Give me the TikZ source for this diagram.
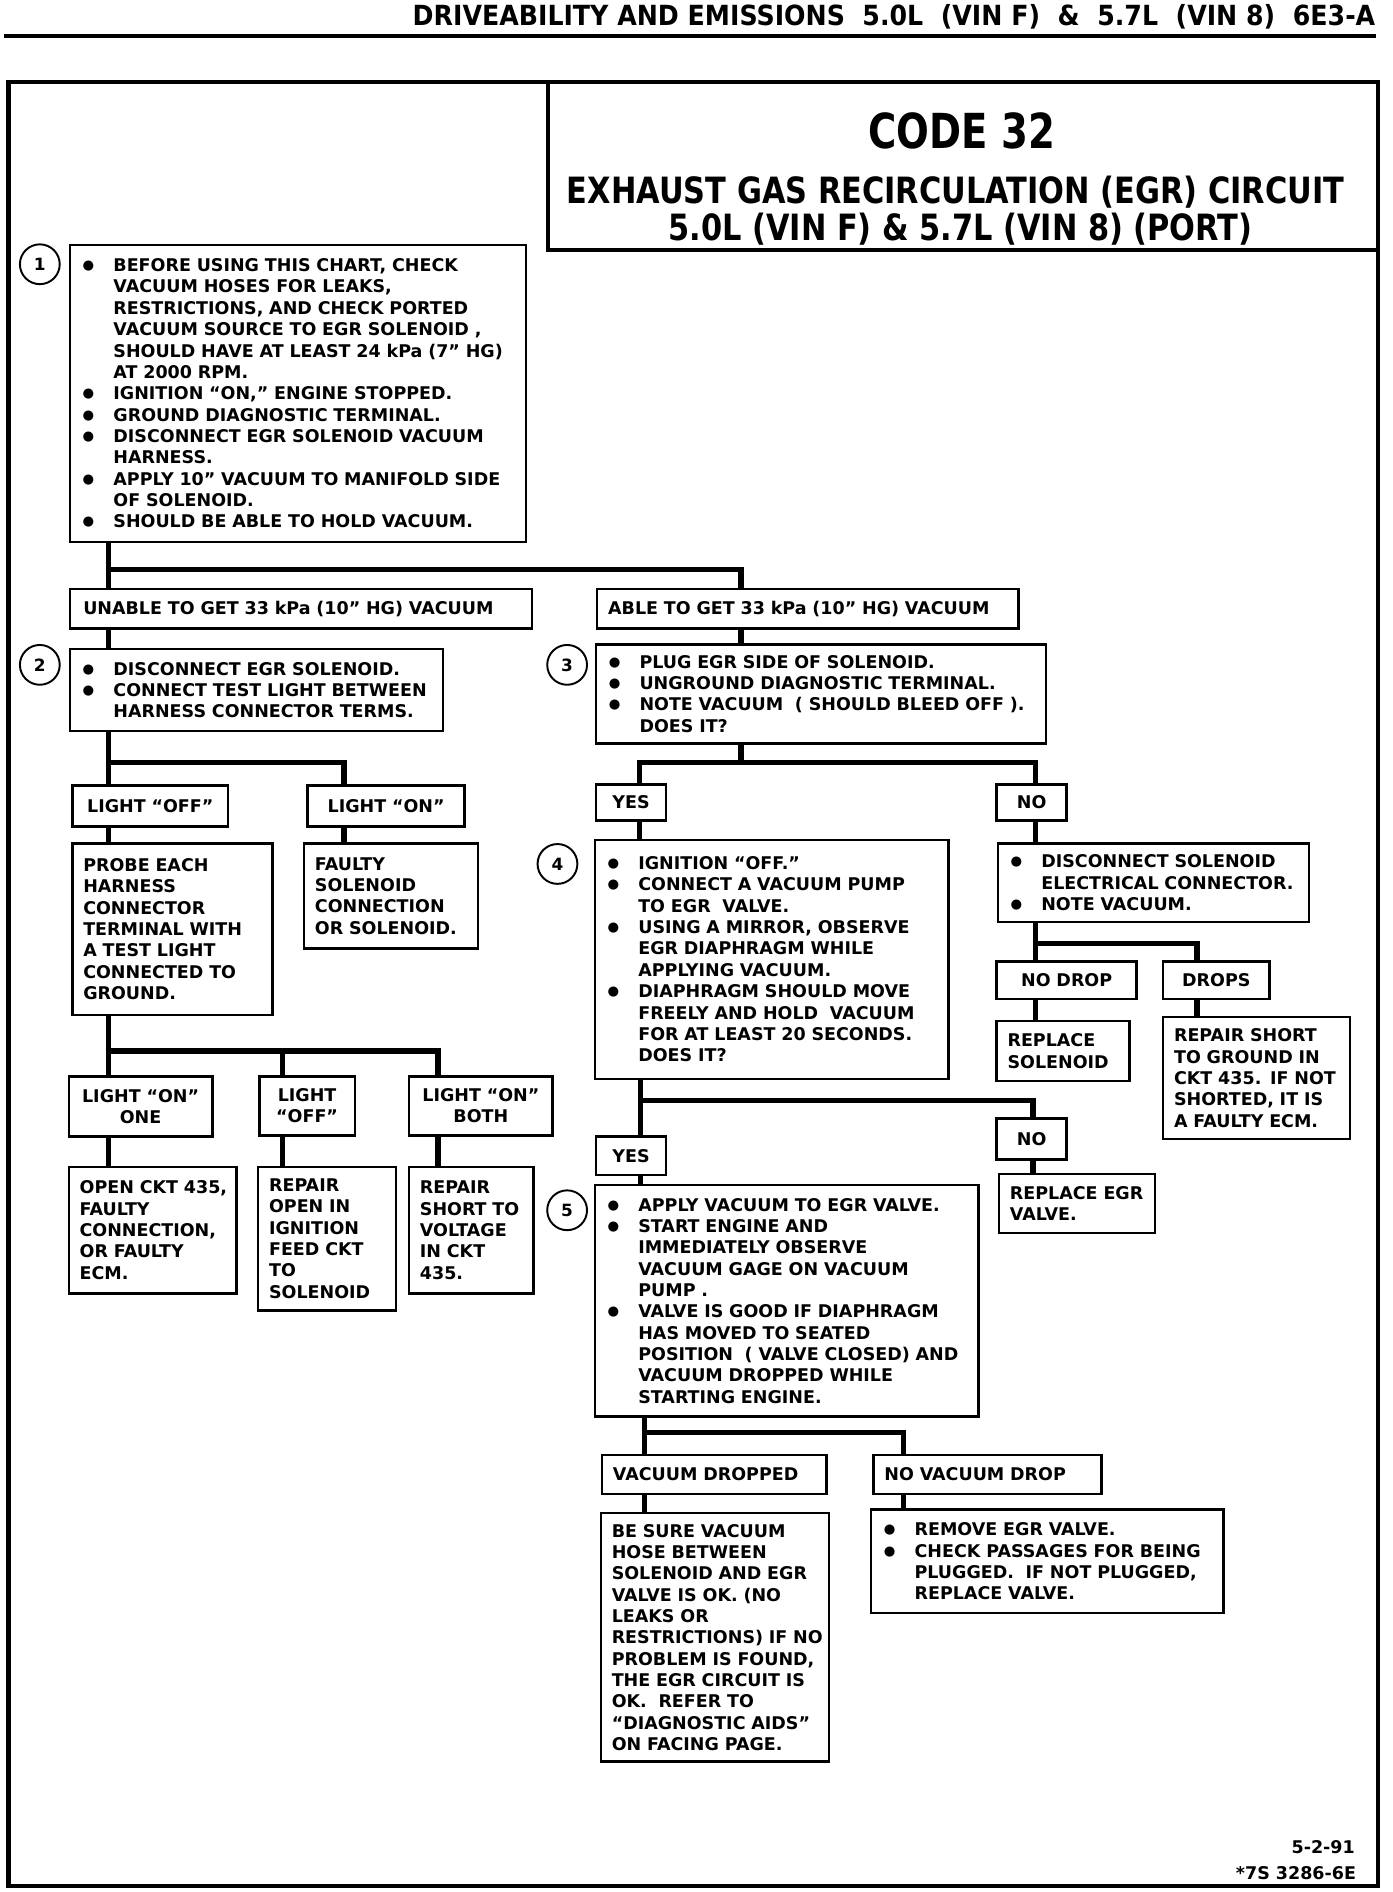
\documentclass[tikz,border=0pt]{standalone}
\usepackage{fontspec}
\setmainfont{DejaVu Sans}
\usepackage{graphicx}
\newcommand{\bodyf}{\bfseries\fontsize{14.5}{17.7}\selectfont}
\newcommand{\bdot}{\makebox[27pt][l]{\hspace{1.5pt}\raisebox{1.6pt}{\fontsize{11}{11}\selectfont ●}}}
\newcommand{\bitm}[1]{\mbox{\bdot#1}}
\newcommand{\citm}[1]{\mbox{\hspace*{27pt}#1}}
\newcommand{\litm}[1]{\mbox{#1}}
\begin{document}
\begin{tikzpicture}[x=1pt,y=-1pt,
  rbox/.style={draw, line width=2pt, anchor=north west, inner xsep=9pt, inner ysep=0pt, align=left, font=\bodyf},
  cbox/.style={rbox, align=center},
  conn/.style={line width=4.5pt},
  numc/.style={draw, circle, line width=1.6pt, minimum size=33pt, inner sep=0pt, font=\bfseries\fontsize{14}{14}\selectfont},
  ]
\useasboundingbox (0,0) rectangle (1154,1568);

% header and frame
\node[anchor=base east, inner sep=0pt, font=\bfseries\fontsize{23}{23}\selectfont] (hdr) at (1140,21)
  {\scalebox{0.91}[1]{DRIVEABILITY AND EMISSIONS\ \ 5.0L\ \ (VIN F)\ \ \&\ \ 5.7L\ \ (VIN 8)\ \ 6E3-A}};
\draw[line width=3pt] (3,30) -- (1140,30);
\draw[line width=3.5pt] (7,68) rectangle (1142,1563);
\draw[line width=3pt] (454,68) -- (454,207) -- (1142,207);
\node[anchor=base, inner sep=0pt, font=\bfseries\fontsize{40}{40}\selectfont] (code) at (797,123) {\scalebox{0.8}[1]{CODE 32}};
\node[anchor=base, inner sep=0pt, font=\bfseries\fontsize{30}{30}\selectfont] (t2) at (792,169) {\scalebox{0.84}[1]{EXHAUST GAS RECIRCULATION (EGR) CIRCUIT}};
\node[anchor=base, inner sep=0pt, font=\bfseries\fontsize{30}{30}\selectfont] (t3) at (796,199) {\scalebox{0.84}[1]{5.0L\ (VIN F)\ \&\ 5.7L\ (VIN 8)\ (PORT)}};

% circles
\node[numc] (c1) at (33,219) {1};
\node[numc] (c2) at (33,551) {2};
\node[numc] (c3) at (470,551) {3};
\node[numc] (c4) at (462,716) {4};
\node[numc] (c5) at (470,1003) {5};

% left side
\node[rbox, text width=360pt, minimum height=246pt] (b1) at (57,202) {%
\bitm{BEFORE USING THIS CHART, CHECK}\\
\citm{VACUUM HOSES FOR LEAKS,}\\
\citm{RESTRICTIONS, AND CHECK PORTED}\\
\citm{VACUUM SOURCE TO EGR SOLENOID ,}\\
\citm{SHOULD HAVE AT LEAST 24 kPa (7” HG)}\\
\citm{AT 2000 RPM.}\\
\bitm{IGNITION “ON,” ENGINE STOPPED.}\\
\bitm{GROUND DIAGNOSTIC TERMINAL.}\\
\bitm{DISCONNECT EGR SOLENOID VACUUM}\\
\citm{HARNESS.}\\
\bitm{APPLY 10” VACUUM TO MANIFOLD SIDE}\\
\citm{OF SOLENOID.}\\
\bitm{SHOULD BE ABLE TO HOLD VACUUM.}};
\node[rbox, text width=365pt, minimum height=33pt] (unable) at (57,487) {\litm{\hspace{2pt}UNABLE TO GET 33 kPa (10” HG) VACUUM}};
\node[rbox, text width=331pt, minimum height=33pt] (able) at (494,487) {\litm{ABLE TO GET 33 kPa (10” HG) VACUUM}};
\node[rbox, text width=291pt, minimum height=68pt] (b2) at (57,537) {\bitm{DISCONNECT EGR SOLENOID.}\\ \bitm{CONNECT TEST LIGHT BETWEEN}\\ \citm{HARNESS CONNECTOR TERMS.}};
\node[cbox, text width=111pt, minimum height=34pt] (loff) at (59,650) {\litm{LIGHT “OFF”}};
\node[cbox, text width=112pt, minimum height=34pt] (lon) at (254,650) {\litm{LIGHT “ON”}};
\node[rbox, text width=148pt, minimum height=142pt] (probe) at (59,698) {\litm{PROBE EACH}\\ HARNESS\\ CONNECTOR\\ \litm{TERMINAL WITH}\\ \litm{A TEST LIGHT}\\ \litm{CONNECTED TO}\\ GROUND.};
\node[rbox, text width=126pt, minimum height=87pt] (faulty) at (251,698) {FAULTY\\ SOLENOID\\ CONNECTION\\ \litm{OR SOLENOID.}};
\node[cbox, text width=101pt, minimum height=50pt] (lon1) at (56,891) {\litm{LIGHT “ON”}\\ ONE};
\node[cbox, text width=61pt, minimum height=49pt] (loff2) at (214,891) {LIGHT\\ “OFF”};
\node[cbox, text width=101pt, minimum height=49pt] (lonb) at (338,891) {\litm{LIGHT “ON”}\\ BOTH};
\node[rbox, text width=121pt, minimum height=105pt] (open) at (56,966) {\litm{OPEN CKT 435,}\\ FAULTY\\ \litm{CONNECTION,}\\ \litm{OR FAULTY}\\ ECM.};
\node[rbox, text width=96pt, minimum height=119pt] (ropen) at (213,966) {REPAIR\\ \litm{OPEN IN}\\ IGNITION\\ \litm{FEED CKT}\\ TO\\ SOLENOID};
\node[rbox, text width=85pt, minimum height=105pt] (rshort) at (338,966) {REPAIR\\ \litm{SHORT TO}\\ VOLTAGE\\ \litm{IN CKT}\\ 435.};

% right side
\node[rbox, text width=355pt, minimum height=82pt] (b3) at (493,533) {\bitm{PLUG EGR SIDE OF SOLENOID.}\\ \bitm{UNGROUND DIAGNOSTIC TERMINAL.}\\ \bitm{NOTE VACUUM\ \ ( SHOULD BLEED OFF ).}\\ \citm{DOES IT?}};
\node[cbox, text width=40pt, minimum height=30pt] (yes1) at (493,649) {YES};
\node[cbox, text width=40pt, minimum height=30pt] (no1) at (825,649) {NO};
\node[rbox, text width=275pt, minimum height=198pt] (b4) at (492,695) {\bitm{IGNITION “OFF.”}\\ \bitm{CONNECT A VACUUM PUMP}\\ \citm{TO EGR\ \ VALVE.}\\ \bitm{USING A MIRROR, OBSERVE}\\ \citm{EGR DIAPHRAGM WHILE}\\ \citm{APPLYING VACUUM.}\\ \bitm{DIAPHRAGM SHOULD MOVE}\\ \citm{FREELY AND HOLD\ \ VACUUM}\\ \citm{FOR AT LEAST 20 SECONDS.}\\ \citm{DOES IT?}};
\node[rbox, text width=240pt, minimum height=65pt] (dsol) at (826,698) {\bitm{DISCONNECT SOLENOID}\\ \citm{ELECTRICAL CONNECTOR.}\\ \bitm{NOTE VACUUM.}};
\node[cbox, text width=98pt, minimum height=31pt] (nodrop) at (825,796) {\litm{NO DROP}};
\node[cbox, text width=70pt, minimum height=31pt] (drops) at (963,796) {DROPS};
\node[rbox, text width=92pt, minimum height=50pt] (rsol) at (825,845) {REPLACE\\ SOLENOID};
\node[rbox, text width=137pt, minimum height=101pt] (rgnd) at (963,842) {\litm{REPAIR SHORT}\\ \litm{TO GROUND IN}\\ \litm{CKT 435. IF NOT}\\ \litm{SHORTED, IT IS}\\ \litm{A FAULTY ECM.}};
\node[cbox, text width=40pt, minimum height=34pt] (no2) at (825,926) {NO};
\node[cbox, text width=40pt, minimum height=32pt] (yes2) at (493,941) {YES};
\node[rbox, text width=111pt, minimum height=49pt] (regr) at (827,972) {\litm{REPLACE EGR}\\ VALVE.};
\node[rbox, text width=300pt, minimum height=192pt] (b5) at (492,981) {\bitm{APPLY VACUUM TO EGR VALVE.}\\ \bitm{START ENGINE AND}\\ \citm{IMMEDIATELY OBSERVE}\\ \citm{VACUUM GAGE ON VACUUM}\\ \citm{PUMP .}\\ \bitm{VALVE IS GOOD IF DIAPHRAGM}\\ \citm{HAS MOVED TO SEATED}\\ \citm{POSITION\ \ ( VALVE CLOSED) AND}\\ \citm{VACUUM DROPPED WHILE}\\ \citm{STARTING ENGINE.}};
\node[rbox, text width=168pt, minimum height=32pt] (vd) at (498,1205) {\litm{VACUUM DROPPED}};
\node[rbox, text width=171pt, minimum height=32pt] (nvd) at (723,1205) {\litm{NO VACUUM DROP}};
\node[rbox, text width=171pt, minimum height=206pt] (besure) at (497,1253) {\litm{BE SURE VACUUM}\\ \litm{HOSE BETWEEN}\\ \litm{SOLENOID AND EGR}\\ \litm{VALVE IS OK. (NO}\\ \litm{LEAKS OR}\\ \litm{RESTRICTIONS) IF NO}\\ \litm{PROBLEM IS FOUND,}\\ \litm{THE EGR CIRCUIT IS}\\ \litm{OK.\ \ REFER TO}\\ \litm{“DIAGNOSTIC AIDS”}\\ \litm{ON FACING PAGE.}};
\node[rbox, text width=274pt, minimum height=86pt] (remove) at (721,1250) {\bitm{REMOVE EGR VALVE.}\\ \bitm{CHECK PASSAGES FOR BEING}\\ \citm{PLUGGED.\ \ IF NOT PLUGGED,}\\ \citm{REPLACE VALVE.}};

% footer
\node[anchor=base east, inner sep=0pt, font=\bodyf] (d1) at (1123,1536) {5-2-91};
\node[anchor=base east, inner sep=0pt, font=\bodyf] (d2) at (1124,1558) {*7S 3286-6E};

% connectors
\coordinate (j1) at (90,472); \coordinate (j1r) at (614,472);
\draw[conn] (b1.south -| j1) -- (unable.north -| j1);
\draw[conn] (j1) -- (j1r) -- (able.north -| j1r);
\draw[conn] (unable.south -| j1) -- (b2.north -| j1);
\draw[conn] (able.south -| j1r) -- (b3.north -| j1r);
\coordinate (j2) at (90,632); \coordinate (j2r) at (285,632);
\draw[conn] (b2.south -| j2) -- (loff.north -| j2);
\draw[conn] (j2) -- (j2r) -- (lon.north -| j2r);
\draw[conn] (loff.south -| j2) -- (probe.north -| j2);
\draw[conn] (lon.south -| j2r) -- (faulty.north -| j2r);
\coordinate (j3) at (90,871); \coordinate (j3m) at (234,871); \coordinate (j3r) at (363,871);
\draw[conn] (probe.south -| j3) -- (lon1.north -| j3);
\draw[conn] (j3) -- (j3r) -- (lonb.north -| j3r);
\draw[conn] (j3m) -- (loff2.north -| j3m);
\draw[conn] (lon1.south -| j3) -- (open.north -| j3);
\draw[conn] (loff2.south -| j3m) -- (ropen.north -| j3m);
\draw[conn] (lonb.south -| j3r) -- (rshort.north -| j3r);
\coordinate (j4) at (530,632); \coordinate (j4r) at (858,632);
\draw[conn] (b3.south -| j1r) -- (j1r |- j4);
\draw[conn] (yes1.north -| j4) -- (j4) -- (j4r) -- (no1.north -| j4r);
\draw[conn] (yes1.south -| j4) -- (b4.north -| j4);
\draw[conn] (no1.south -| j4r) -- (dsol.north -| j4r);
\coordinate (j5) at (858,782); \coordinate (j5r) at (992,782);
\draw[conn] (dsol.south -| j5) -- (nodrop.north -| j5);
\draw[conn] (j5) -- (j5r) -- (drops.north -| j5r);
\draw[conn] (nodrop.south -| j5) -- (rsol.north -| j5);
\draw[conn] (drops.south -| j5r) -- (rgnd.north -| j5r);
\coordinate (j6) at (531,912); \coordinate (j6r) at (856,912);
\draw[conn] (b4.south -| j6) -- (yes2.north -| j6);
\draw[conn] (j6) -- (j6r) -- (no2.north -| j6r);
\draw[conn] (yes2.south -| j6) -- (b5.north -| j6);
\draw[conn] (no2.south -| j6r) -- (regr.north -| j6r);
\coordinate (j7) at (534,1187); \coordinate (j7r) at (749,1187);
\draw[conn] (b5.south -| j7) -- (vd.north -| j7);
\draw[conn] (j7) -- (j7r) -- (nvd.north -| j7r);
\draw[conn] (vd.south -| j7) -- (besure.north -| j7);
\draw[conn] (nvd.south -| j7r) -- (remove.north -| j7r);
\end{tikzpicture}
\end{document}
